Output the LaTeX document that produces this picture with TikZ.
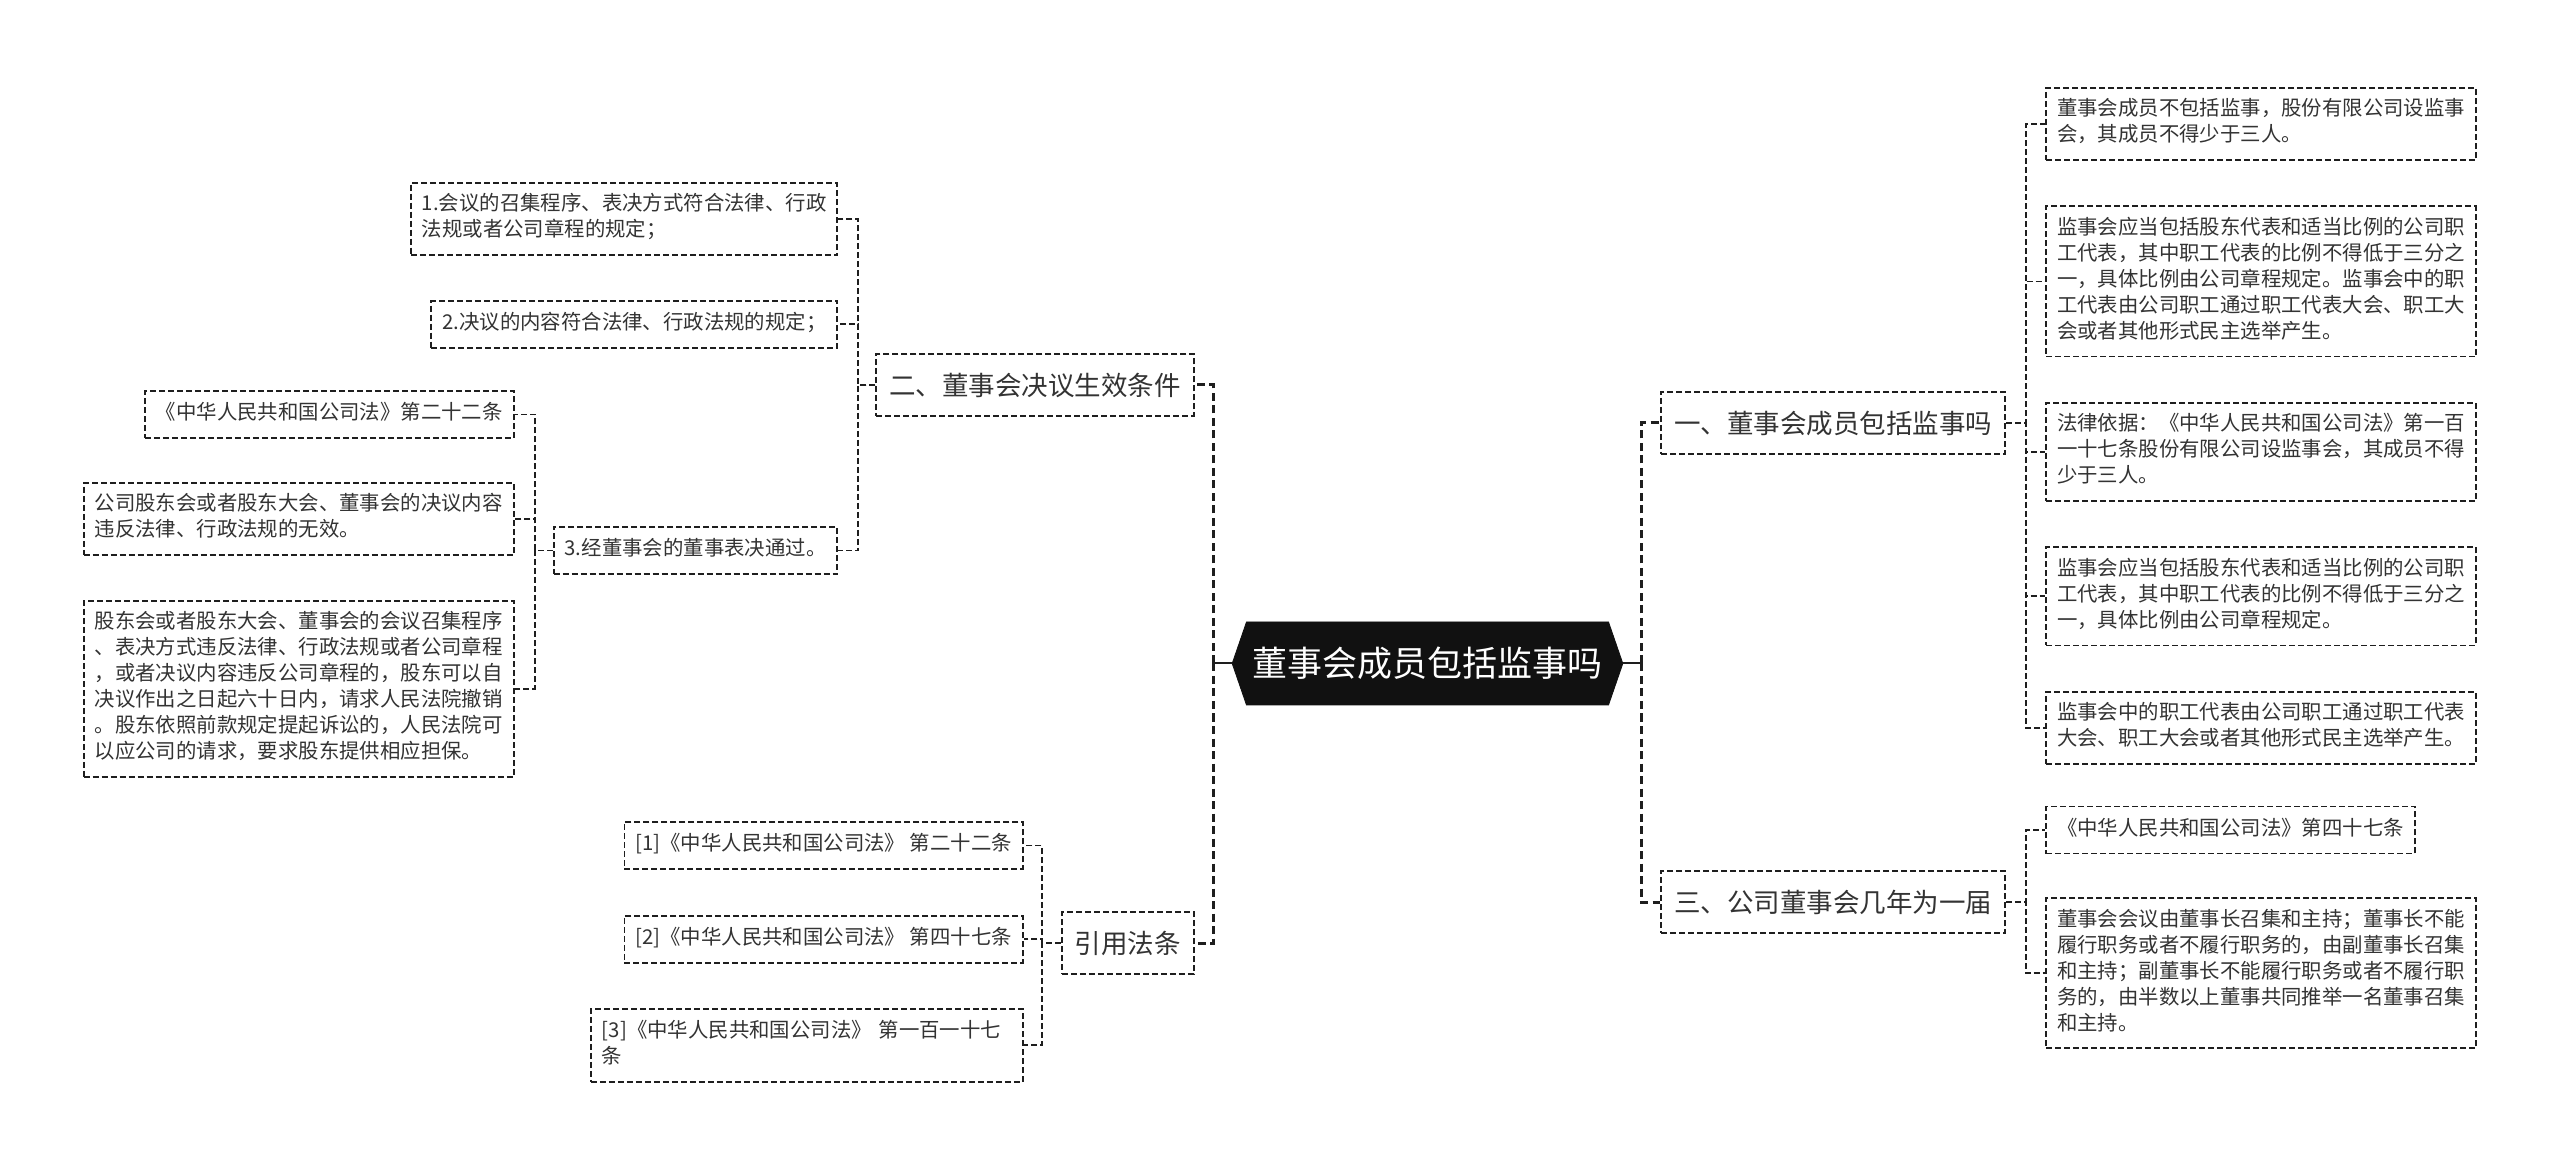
\documentclass[tikz,border=0pt]{standalone}
\usepackage{fontspec}
\setmainfont{Noto Sans CJK SC}
\usepackage{tikz}
\usetikzlibrary{positioning, shapes.symbols}
\definecolor{mapink}{RGB}{51,51,51}
\definecolor{mapline}{RGB}{30,30,30}
\definecolor{rootfill}{RGB}{17,17,17}
\newcommand{\leaffont}{\fontsize{10.2pt}{13pt}\selectfont}
\newcommand{\topicfont}{\fontsize{13.25pt}{16pt}\selectfont}
\newcommand{\rootfont}{\fontsize{17.5pt}{21pt}\selectfont}
\tikzset{
  root/.style={
    signal, signal to=west and east, signal pointer angle=142,
    fill=rootfill, draw=rootfill, text=white, font=\rootfont,
    minimum height=41.5pt, inner xsep=3pt, inner ysep=0pt
  },
  topic/.style={
    rectangle, draw=mapline, dash pattern=on 3pt off 1.5pt, line width=0.95pt,
    fill=white, text=mapink, font=\topicfont,
    minimum height=31pt, inner xsep=6.5pt, inner ysep=0pt
  },
  leaf/.style={
    rectangle, draw=mapline, dash pattern=on 3pt off 1.5pt, line width=0.95pt,
    fill=white, text=mapink, font=\leaffont, align=left,
    inner xsep=5.5pt, inner ysep=5.25pt,
    execute at begin node=\strut, execute at end node=\strut
  },
  link/.style={draw=mapline, dash pattern=on 3pt off 1.5pt, line width=0.95pt},
  trunk/.style={draw=mapline, dash pattern=on 4pt off 2.25pt, line width=1.5pt},
  stem/.style={draw=mapline, line width=1pt}
}

\begin{document}
\begin{tikzpicture}
  \useasboundingbox[fill=white] (0,0) rectangle (1280pt,-582.5pt);

  % Root
  \node[root] (root) at (713.75pt,-331.75pt) {董事会成员包括监事吗};

  % Topics
  \node[topic, left=18.5pt of root.west, yshift=139.25pt] (cond)
    {二、董事会决议生效条件};
  \node[topic, left=18.5pt of root.west, yshift=-139.75pt] (cite)
    {引用法条};
  \node[topic, right=18.5pt of root.east, yshift=120.25pt] (member)
    {一、董事会成员包括监事吗};
  \node[topic, right=18.5pt of root.east, yshift=-119.25pt] (term)
    {三、公司董事会几年为一届};

  % Conditions
  \node[leaf, left=18.5pt of cond.west, yshift=83pt] (cond_a)
    {1.会议的召集程序、表决方式符合法律、行政\\法规或者公司章程的规定；};
  \node[leaf, below=22pt of cond_a.south east, anchor=north east] (cond_b)
    {2.决议的内容符合法律、行政法规的规定；};
  \node[leaf, left=18.5pt of cond.west, yshift=-82.75pt] (cond_c)
    {3.经董事会的董事表决通过。};

  % Vote details
  \node[leaf, left=19pt of cond_c.west, yshift=68pt] (vote_a)
    {《中华人民共和国公司法》第二十二条};
  \node[leaf, below=21.5pt of vote_a.south east, anchor=north east] (vote_b)
    {公司股东会或者股东大会、董事会的决议内容\\违反法律、行政法规的无效。};
  \node[leaf, below=22pt of vote_b.south east, anchor=north east] (vote_c)
    {股东会或者股东大会、董事会的会议召集程序\\、表决方式违反法律、行政法规或者公司章程\\，或者决议内容违反公司章程的，股东可以自\\决议作出之日起六十日内，请求人民法院撤销\\。股东依照前款规定提起诉讼的，人民法院可\\以应公司的请求，要求股东提供相应担保。};

  % Citations
  \node[leaf, left=18.5pt of cite.west, yshift=48.75pt] (cite_a)
    {[1]《中华人民共和国公司法》 第二十二条};
  \node[leaf, below=22.5pt of cite_a.south east, anchor=north east] (cite_b)
    {[2]《中华人民共和国公司法》 第四十七条};
  \node[leaf, text width=205pt, below=22pt of cite_b.south east, anchor=north east] (cite_c)
    {[3]《中华人民共和国公司法》 第一百一十七\\条};

  % Members
  \node[leaf, right=19.5pt of member.east, yshift=149.5pt] (member_a)
    {董事会成员不包括监事，股份有限公司设监事\\会，其成员不得少于三人。};
  \node[leaf, below=22.25pt of member_a.south west, anchor=north west] (member_b)
    {监事会应当包括股东代表和适当比例的公司职\\工代表，其中职工代表的比例不得低于三分之\\一，具体比例由公司章程规定。监事会中的职\\工代表由公司职工通过职工代表大会、职工大\\会或者其他形式民主选举产生。};
  \node[leaf, below=22.25pt of member_b.south west, anchor=north west] (member_c)
    {法律依据：《中华人民共和国公司法》第一百\\一十七条股份有限公司设监事会，其成员不得\\少于三人。};
  \node[leaf, below=22.25pt of member_c.south west, anchor=north west] (member_d)
    {监事会应当包括股东代表和适当比例的公司职\\工代表，其中职工代表的比例不得低于三分之\\一，具体比例由公司章程规定。};
  \node[leaf, below=22.25pt of member_d.south west, anchor=north west] (member_e)
    {监事会中的职工代表由公司职工通过职工代表\\大会、职工大会或者其他形式民主选举产生。};

  % Term
  \node[leaf, right=19.5pt of term.east, yshift=36pt] (term_a)
    {《中华人民共和国公司法》第四十七条};
  \node[leaf, below=21.5pt of term_a.south west, anchor=north west] (term_b)
    {董事会会议由董事长召集和主持；董事长不能\\履行职务或者不履行职务的，由副董事长召集\\和主持；副董事长不能履行职务或者不履行职\\务的，由半数以上董事共同推举一名董事召集\\和主持。};

  % Trunk
  \draw[stem] (root.west) -- ++(-9pt,0) coordinate (lhub);
  \draw[stem] (root.east) -- ++(9pt,0) coordinate (rhub);
  \draw[trunk] (lhub) |- (cond.east);
  \draw[trunk] (lhub) |- (cite.east);
  \draw[trunk] (rhub) |- (member.west);
  \draw[trunk] (rhub) |- (term.west);

  % Branches
  \draw[link] (cond.west) -- ++(-8.5pt,0) |- (cond_a.east);
  \draw[link] (cond.west) -- ++(-8.5pt,0) |- (cond_b.east);
  \draw[link] (cond.west) -- ++(-8.5pt,0) |- (cond_c.east);
  \draw[link] (cond_c.west) -- ++(-9pt,0) |- (vote_a.east);
  \draw[link] (cond_c.west) -- ++(-9pt,0) |- (vote_b.east);
  \draw[link] (cond_c.west) -- ++(-9pt,0) |- (vote_c.east);
  \draw[link] (cite.west) -- ++(-9.5pt,0) |- (cite_a.east);
  \draw[link] (cite.west) -- ++(-9.5pt,0) |- (cite_b.east);
  \draw[link] (cite.west) -- ++(-9.5pt,0) |- (cite_c.east);
  \draw[link] (member.east) -- ++(10pt,0) |- (member_a.west);
  \draw[link] (member.east) -- ++(10pt,0) |- (member_b.west);
  \draw[link] (member.east) -- ++(10pt,0) |- (member_c.west);
  \draw[link] (member.east) -- ++(10pt,0) |- (member_d.west);
  \draw[link] (member.east) -- ++(10pt,0) |- (member_e.west);
  \draw[link] (term.east) -- ++(10pt,0) |- (term_a.west);
  \draw[link] (term.east) -- ++(10pt,0) |- (term_b.west);
\end{tikzpicture}
\end{document}
